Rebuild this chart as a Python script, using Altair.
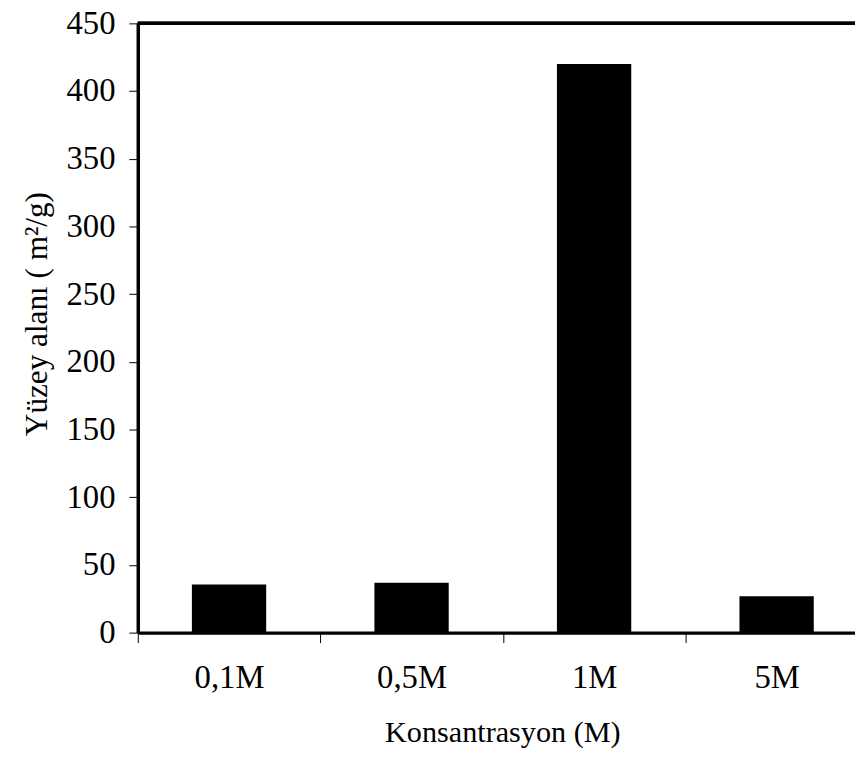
import altair as alt
import pandas as pd

categories = ["0,1M", "0,5M", "1M", "5M"]
values = [35.5, 36.8, 420, 26.8]

df = pd.DataFrame({"konsantrasyon": categories, "alan": values})

FONT = "Liberation Serif"

bars = alt.Chart(df).mark_bar(color="black", size=75).encode(
    x=alt.X(
        "konsantrasyon:N",
        sort=categories,
        scale=alt.Scale(range=[0, 737], paddingInner=0, paddingOuter=0),
        axis=alt.Axis(
            title="Konsantrasyon (M)",
            labelAngle=0,
            tickBand="extent",
            tickSize=10,
            tickWidth=1,
            tickColor="black",
            domainColor="black",
            domainWidth=3.5,
            labelFont=FONT,
            labelFontSize=33,
            labelColor="black",
            labelPadding=19,
            titleFont=FONT,
            titleFontSize=30.5,
            titleFontWeight="normal",
            titleColor="black",
            titlePadding=24,
            titleX=368,
        ),
    ),
    y=alt.Y(
        "alan:Q",
        scale=alt.Scale(domain=[0, 450], nice=False),
        axis=alt.Axis(
            title="Yüzey alanı ( m²/g)",
            values=list(range(0, 451, 50)),
            grid=False,
            tickSize=9,
            tickWidth=1,
            tickColor="black",
            domainColor="black",
            domainWidth=3.5,
            labelFont=FONT,
            labelFontSize=33,
            labelColor="black",
            labelPadding=14,
            titleFont=FONT,
            titleFontSize=31.5,
            titleFontWeight="normal",
            titleColor="black",
            titlePadding=13,
            titleY=293,
        ),
    ),
)

top_line = alt.Chart(df).mark_rule(color="black", strokeWidth=3.5).encode(
    y=alt.value(0),
    x=alt.value(0),
    x2=alt.value(737),
)

chart = (
    alt.layer(bars, top_line)
    .properties(
        width=724,
        height=615,
        autosize=alt.AutoSizeParams(type="none"),
        padding={"left": 131, "top": 12, "right": 0, "bottom": 119},
        background="white",
    )
    .configure_view(stroke=None)
)

chart.save("out.html", embed_options={"renderer": "svg", "actions": False})
